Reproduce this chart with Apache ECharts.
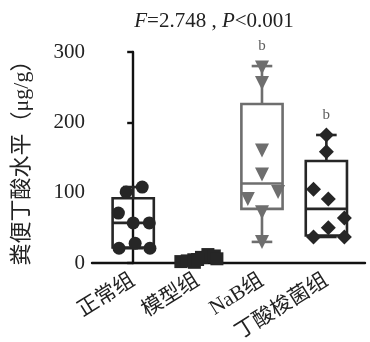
<!DOCTYPE html>
<html><head><meta charset="utf-8">
<script src="https://cdn.jsdelivr.net/npm/echarts@6/dist/echarts.min.js"></script>
<style>html,body{margin:0;padding:0;background:#fff}#c{width:370px;height:342px}</style>
</head><body><div id="c"></div>
<script>
// ---- data ----
const categories = ['正常组', '模型组', 'NaB组', '丁酸梭菌组'];
const yTicks = [0, 100, 200, 300];
// individual values per group
const normalVals = [108, 101, 71, 57, 57, 28, 21, 21];
const modelVals  = [2, 3, 1, 8, 12, 10, 6, 5];
const nabVals    = [278, 256, 160, 126, 101, 91, 72, 30];
const cbVals     = [182, 158, 105, 91, 64, 50, 37, 37];
// box stats: [min, Q1, median, Q3, max]
const normalBox = [21, 22, 57, 92, 108];
const modelBox  = [1, 2, 4, 8, 12];
const nabBox    = [30, 77, 113, 226, 280];
const cbBox     = [37, 39, 77, 145, 182];
const sigLabels = ['', '', 'b', 'b'];
const titleText = ['F', '=2.748 , ', 'P', '<0.001'];
const yName = '粪便丁酸水平（μg/g）';

// ---- layout / style (not data) ----
const jitter = [
  [0.14, -0.11, -0.23, 0, 0.25, 0.03, -0.22, 0.26],
  [-0.26, -0.16, -0.05, 0.06, 0.16, 0.26, 0.3, 0.0],
  [0, 0, 0, 0, 0.25, -0.22, 0, 0],
  [0, 0, -0.2, 0.03, 0.28, 0.03, -0.2, 0.28]
];
const colors = ['#262626', '#262626', '#6e6e6e', '#262626'];
const symbols = ['circle', 'rect', 'triangle', 'diamond'];
const symSizes = [13, 13, 14, 15];
const symRot = [0, 0, 180, 0];

const groups = [normalVals, modelVals, nabVals, cbVals];
const boxes = [normalBox, modelBox, nabBox, cbBox];

const chart = echarts.init(document.getElementById('c'), null, {renderer: 'canvas'});
const serif = 'Liberation Serif, "Noto Sans CJK SC", serif';

const boxSeries = {
  type: 'custom',
  z: 2,
  clip: false,
  data: boxes.map((b, i) => [i].concat(b)),
  encode: {x: 0, y: [1, 2, 3, 4, 5]},
  renderItem: function (params, api) {
    const i = api.value(0);
    const mn = api.value(1), q1 = api.value(2), md = api.value(3), q3 = api.value(4), mx = api.value(5);
    const unit = api.size([1, 0])[0];
    const hw = unit * 0.32, cw = unit * 0.16;
    const x = api.coord([i, md])[0];
    const y = v => api.coord([i, v])[1];
    const st = {stroke: colors[i], lineWidth: 2.6, fill: null};
    const line = (x1, y1, x2, y2) => ({type: 'line', shape: {x1, y1, x2, y2}, style: st});
    return {type: 'group', children: [
      {type: 'rect', shape: {x: x - hw, y: y(q3), width: 2 * hw, height: y(q1) - y(q3)}, style: st},
      line(x - hw, y(md), x + hw, y(md)),
      line(x, y(q3), x, y(mx)),
      line(x - cw, y(mx), x + cw, y(mx)),
      line(x, y(q1), x, y(mn)),
      line(x - cw, y(mn), x + cw, y(mn))
    ]};
  }
};

const pointSeries = groups.map((vals, g) => ({
  type: 'scatter',
  z: 3,
  clip: false,
  symbol: symbols[g],
  symbolSize: symSizes[g],
  symbolRotate: symRot[g],
  itemStyle: {color: colors[g], opacity: 1},
  data: vals.map((v, k) => [g + jitter[g][k], v])
}));

const sigSeries = {
  type: 'scatter',
  z: 4,
  clip: false,
  symbol: 'circle',
  symbolSize: 1,
  itemStyle: {color: 'rgba(0,0,0,0)'},
  data: boxes.map((b, i) => ({value: [i, b[4]]})),
  label: {show: true, position: 'top', distance: 12, fontFamily: serif, fontSize: 15, color: '#333',
    formatter: p => sigLabels[p.dataIndex]}
};

chart.setOption({
  animation: false,
  backgroundColor: '#fff',
  title: {
    text: '{i|' + titleText[0] + '}{n|' + titleText[1] + '}{i|' + titleText[2] + '}{n|' + titleText[3] + '}',
    left: 209, top: 6, textAlign: 'center',
    textStyle: {
      fontWeight: 'normal',
      rich: {
        i: {fontFamily: serif, fontStyle: 'italic', fontWeight: 'normal', fontSize: 21, color: '#222'},
        n: {fontFamily: serif, fontWeight: 'normal', fontSize: 21, color: '#222'}
      }
    }
  },
  grid: {left: 92, right: 5, top: 52, bottom: 79, containLabel: false, outerBoundsMode: 'none'},
  xAxis: {
    type: 'value',
    min: -0.64, max: 3.6,
    axisLine: {show: true, onZero: false, lineStyle: {color: '#111', width: 2.4}},
    axisTick: {show: false},
    splitLine: {show: false},
    axisLabel: {
      customValues: [0, 1, 2, 3],
      formatter: v => categories[Math.round(v)],
      rotate: 32, margin: 16,
      fontFamily: serif, fontSize: 21, color: '#222'
    }
  },
  yAxis: {
    type: 'value', min: 0, max: 300, interval: 100,
    name: yName, nameLocation: 'middle', nameGap: 59, nameRotate: 90,
    nameTextStyle: {fontFamily: serif, fontSize: 22, color: '#222'},
    axisLine: {show: true, lineStyle: {color: '#111', width: 2.4}},
    axisTick: {show: true, length: 6, lineStyle: {color: '#111', width: 2.4}},
    splitLine: {show: false},
    axisLabel: {margin: 7, fontFamily: serif, fontSize: 21, color: '#222',
      formatter: v => yTicks.indexOf(v) >= 0 ? String(v) : ''}
  },
  series: [boxSeries].concat(pointSeries, [sigSeries])
});
</script></body></html>
